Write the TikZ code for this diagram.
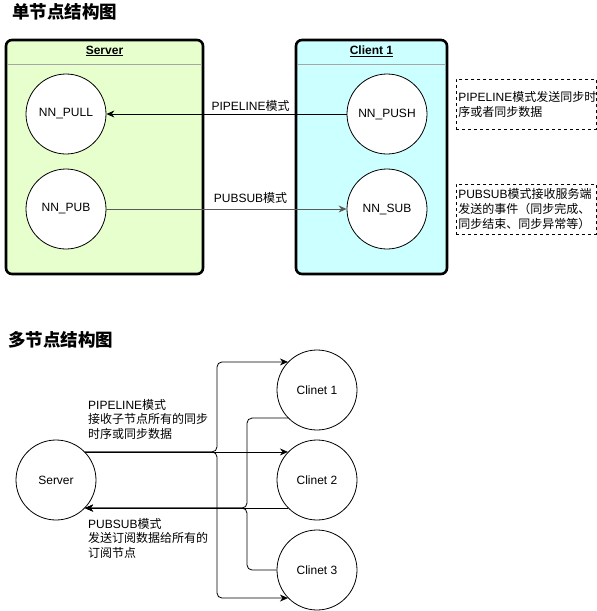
\documentclass[tikz,border=0pt]{standalone}
\usepackage{fontspec}
\setmainfont{Liberation Sans}
\newfontfamily\cjk{Noto Sans CJK SC}
\newcommand{\zh}[1]{{\cjk #1}}
\usetikzlibrary{arrows.meta}
\definecolor{ndgreen}{HTML}{E6FFCC}
\definecolor{ndcyan}{HTML}{CCFFFF}
\definecolor{ndgray}{HTML}{5A5A5A}

\tikzset{
  ndbox/.style={draw=black, line width=2.6pt, rounded corners=6pt},
  ndcirc/.style={circle, draw=black, fill=white, line width=0.8pt, minimum size=80pt, inner sep=0pt, font=\fontsize{12}{14}\selectfont},
  ndnote/.style={draw=black, dashed, line width=0.6pt, minimum width=140pt, minimum height=50pt, text width=136pt, inner sep=2pt, align=left, font=\fontsize{12}{15}\selectfont},
  ndtext/.style={inner sep=0pt, align=left, font=\fontsize{12}{14.5}\selectfont},
  ndtitle/.style={inner sep=0pt, font=\fontsize{17.5}{20}\selectfont\bfseries},
  ndarr/.style={-{Stealth[length=8pt, width=7pt]}, line width=0.8pt}
}

\begin{document}
\begin{tikzpicture}[x=1pt, y=-1pt]
  \useasboundingbox (0,0) rectangle (597,611);

  % single node structure
  \node[ndtitle, anchor=west] (title1) at (12,12) {\zh{单节点结构图}};
  \filldraw[ndbox, fill=ndgreen] (6,40) rectangle (203,274);
  \filldraw[ndbox, fill=ndcyan] (296,40) rectangle (447,274);
  \draw[gray!70, line width=1pt] (7.5,64) -- (201.5,64);
  \draw[gray!70, line width=1pt] (297.5,64) -- (445.5,64);
  \node[font=\fontsize{12}{14}\selectfont\bfseries] (srvhead) at (104.5,51) {\underline{Server}};
  \node[font=\fontsize{12}{14}\selectfont\bfseries] (clihead) at (371.5,51) {\underline{Client 1}};

  \node[ndcirc] (pull) at (66,114) {NN\_PULL};
  \node[ndcirc] (pub) at (66,209) {NN\_PUB};
  \node[ndcirc] (push) at (387,114) {NN\_PUSH};
  \node[ndcirc] (sub) at (387,209) {NN\_SUB};

  \draw[ndarr] (push) -- node[pos=0.4, above=2pt, ndtext] {PIPELINE\zh{模式}} (pull);
  \draw[ndarr, ndgray] (pub) -- node[pos=0.6, above=5pt, ndtext, text=black] {PUBSUB\zh{模式}} (sub);

  % notes
  \node[ndnote, anchor=north west] (notepipe) at (456,79) {PIPELINE\zh{模式发送同步时}\\\zh{序或者同步数据}};
  \node[ndnote, anchor=north west] (notesub) at (456,184) {PUBSUB\zh{模式接收服务端}\\\zh{发送的事件（同步完成、}\\\zh{同步结束、同步异常等）}};

  % multi node structure
  \node[ndtitle, anchor=west] (title2) at (8,340) {\zh{多节点结构图}};
  \node[ndcirc] (srv) at (56,480) {Server};
  \foreach \i/\y in {1/390, 2/480, 3/570}{
    \node[ndcirc] (cli\i) at (317,\y) {Clinet \i};
  }
  \coordinate (bx) at (217,0);
  \coordinate (rx) at (247,0);

  \draw[ndarr, rounded corners=5pt] (srv.44) -- (bx |- srv.44) -- (bx |- cli1.136) -- (cli1.136);
  \draw[ndarr] (srv.44) -- (cli2.136);
  \draw[ndarr, rounded corners=5pt] (srv.44) -- (bx |- srv.44) -- (bx |- cli3.224) -- (cli3.224);

  \draw[ndarr, rounded corners=5pt] (cli1.224) -- (rx |- cli1.224) -- (rx |- srv.-44) -- (srv.-44);
  \draw[ndarr] (cli2.224) -- (srv.-44);
  \draw[ndarr, rounded corners=5pt] (cli3.west) -- (rx |- cli3.west) -- (rx |- srv.-44) -- (srv.-44);

  \node[ndtext, anchor=north west] (lblpipe) at (88,399) {PIPELINE\zh{模式}\\\zh{接收子节点所有的同步}\\\zh{时序或同步数据}};
  \node[ndtext, anchor=north west] (lblsub) at (88,518) {PUBSUB\zh{模式}\\\zh{发送订阅数据给所有的}\\\zh{订阅节点}};
\end{tikzpicture}
\end{document}
